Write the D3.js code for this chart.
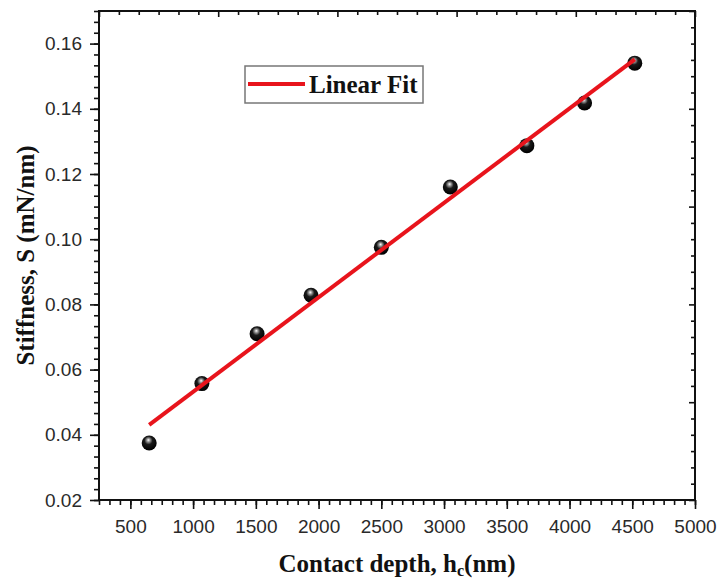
<!DOCTYPE html>
<html>
<head>
<meta charset="utf-8">
<script src="https://cdn.jsdelivr.net/npm/d3@7/dist/d3.min.js"></script>
<style>
  html, body { margin: 0; padding: 0; background: #fff; }
  svg { display: block; }
</style>
</head>
<body>
<svg id="chart" width="719" height="582"></svg>
<script>
// Contact depth (nm) and measured stiffness (mN/nm)
const contactDepth = [650, 1070, 1510, 1940, 2500, 3050, 3660, 4120, 4520];
const stiffness = [0.0375, 0.0557, 0.0710, 0.0828, 0.0975, 0.1160, 0.1287, 0.1418, 0.1540];

const xTicks = [500, 1000, 1500, 2000, 2500, 3000, 3500, 4000, 4500, 5000];
const yTicks = [0.02, 0.04, 0.06, 0.08, 0.10, 0.12, 0.14, 0.16];
const xDomain = [250, 5000];
const yDomain = [0.02, 0.17];
const legendLabel = "Linear Fit";

const svg = d3.select("#chart");
const margin = { left: 99, top: 11, right: 24, bottom: 82 };
const W = 719, H = 582;
const iw = W - margin.left - margin.right;
const ih = H - margin.top - margin.bottom;

const x = d3.scaleLinear().domain(xDomain).range([0, iw]);
const y = d3.scaleLinear().domain(yDomain).range([ih, 0]);

const serif = "'Liberation Serif', 'Times New Roman', serif";

// gradient for the shaded sphere markers
const defs = svg.append("defs");
const grad = defs.append("radialGradient").attr("id", "ball")
  .attr("cx", "45%").attr("cy", "38%").attr("r", "60%")
  .attr("fx", "45%").attr("fy", "30%");
grad.append("stop").attr("offset", "0%").attr("stop-color", "#ffffff");
grad.append("stop").attr("offset", "18%").attr("stop-color", "#9a9a9a");
grad.append("stop").attr("offset", "45%").attr("stop-color", "#1a1a1a");
grad.append("stop").attr("offset", "100%").attr("stop-color", "#000000");

const g = svg.append("g").attr("transform", `translate(${margin.left},${margin.top})`);

// minor tick helpers
function steps(lo, hi, step) {
  const out = [];
  for (let v = lo; v <= hi + step * 1e-6; v += step) out.push(+v.toFixed(6));
  return out;
}
const xMinor = steps(xDomain[0], xDomain[1], 500 / 6);
const yMinor = steps(yDomain[0], yDomain[1], 0.02 / 6);
const xMirror = steps(xDomain[0], xDomain[1], (xDomain[1] - xDomain[0]) / 30);
const yMirror = steps(yDomain[0], yDomain[1], (yDomain[1] - yDomain[0]) / 30);

function styleAxis(sel) {
  sel.select(".domain").remove();
  sel.selectAll(".tick line").attr("stroke", "#111").attr("stroke-width", 1.6);
  sel.selectAll(".tick text")
    .attr("fill", "#2a2a2a")
    .style("font-family", "'Liberation Sans', Arial, sans-serif")
    .style("font-size", "19px");
}

// bottom axis: minor then major with labels
g.append("g").attr("transform", `translate(0,${ih})`)
  .call(d3.axisBottom(x).tickValues(xMinor).tickSize(5).tickFormat(""))
  .call(styleAxis);
g.append("g").attr("transform", `translate(0,${ih})`)
  .call(d3.axisBottom(x).tickValues(xTicks).tickSize(9).tickPadding(11).tickFormat(d3.format("d")))
  .call(styleAxis);

// left axis
g.append("g")
  .call(d3.axisLeft(y).tickValues(yMinor).tickSize(5).tickFormat(""))
  .call(styleAxis);
g.append("g")
  .call(d3.axisLeft(y).tickValues(yTicks).tickSize(9).tickPadding(8).tickFormat(d3.format(".2f")))
  .call(styleAxis);

// mirrored top and right axes with inward ticks
const topAx = g.append("g")
  .call(d3.axisTop(x).tickValues(xMirror).tickSizeInner(0).tickFormat(""));
topAx.selectAll(".tick line").attr("y2", (d, i) => (i % 6 === 0 ? 6 : 4));
topAx.select(".domain").remove();
topAx.selectAll(".tick line").attr("stroke", "#111").attr("stroke-width", 1.6);

const rightAx = g.append("g").attr("transform", `translate(${iw},0)`)
  .call(d3.axisRight(y).tickValues(yMirror).tickSizeInner(0).tickFormat(""));
rightAx.selectAll(".tick line").attr("x2", (d, i) => (i % 6 === 0 ? -6 : -4));
rightAx.select(".domain").remove();
rightAx.selectAll(".tick line").attr("stroke", "#111").attr("stroke-width", 1.6);

// frame
g.append("rect").attr("x", 0).attr("y", 0).attr("width", iw).attr("height", ih)
  .attr("fill", "none").attr("stroke", "#111").attr("stroke-width", 2);

// least-squares fit over the data
const n = contactDepth.length;
const mx = d3.mean(contactDepth), my = d3.mean(stiffness);
let sxy = 0, sxx = 0;
for (let i = 0; i < n; i++) {
  sxy += (contactDepth[i] - mx) * (stiffness[i] - my);
  sxx += (contactDepth[i] - mx) ** 2;
}
const slope = sxy / sxx, intercept = my - slope * mx;
const fitX = d3.extent(contactDepth);
const fitLine = fitX.map(v => [v, intercept + slope * v]);

// markers
g.selectAll("circle.pt").data(contactDepth).enter().append("circle")
  .attr("class", "pt")
  .attr("cx", d => x(d))
  .attr("cy", (d, i) => y(stiffness[i]))
  .attr("r", 7.5)
  .attr("fill", "url(#ball)");

g.append("path").datum(fitLine)
  .attr("d", d3.line().x(d => x(d[0])).y(d => y(d[1])))
  .attr("fill", "none").attr("stroke", "#e8141c").attr("stroke-width", 4);

// legend
const lg = svg.append("g");
lg.append("rect").attr("x", 245).attr("y", 66).attr("width", 178).attr("height", 37)
  .attr("fill", "#fff").attr("stroke", "#777").attr("stroke-width", 1.5);
lg.append("line").attr("x1", 248).attr("x2", 305).attr("y1", 84).attr("y2", 84)
  .attr("stroke", "#e8141c").attr("stroke-width", 4);
lg.append("text").attr("x", 309).attr("y", 93)
  .style("font-family", serif)
  .style("font-weight", "bold").style("font-size", "25px").attr("fill", "#111")
  .text(legendLabel);

// axis titles
const xt = svg.append("text")
  .attr("x", margin.left + iw / 2).attr("y", 572)
  .attr("text-anchor", "middle")
  .style("font-family", serif)
  .style("font-weight", "bold").style("font-size", "25px").attr("fill", "#111");
xt.append("tspan").text("Contact depth, h");
xt.append("tspan").attr("dy", 4).style("font-size", "16px").text("c");
xt.append("tspan").attr("dy", -4).text("(nm)");

svg.append("text")
  .attr("transform", `translate(34,${margin.top + ih / 2}) rotate(-90)`)
  .attr("text-anchor", "middle")
  .style("font-family", serif)
  .style("font-weight", "bold").style("font-size", "25px").attr("fill", "#111")
  .text("Stiffness, S (mN/nm)");
</script>
</body>
</html>
